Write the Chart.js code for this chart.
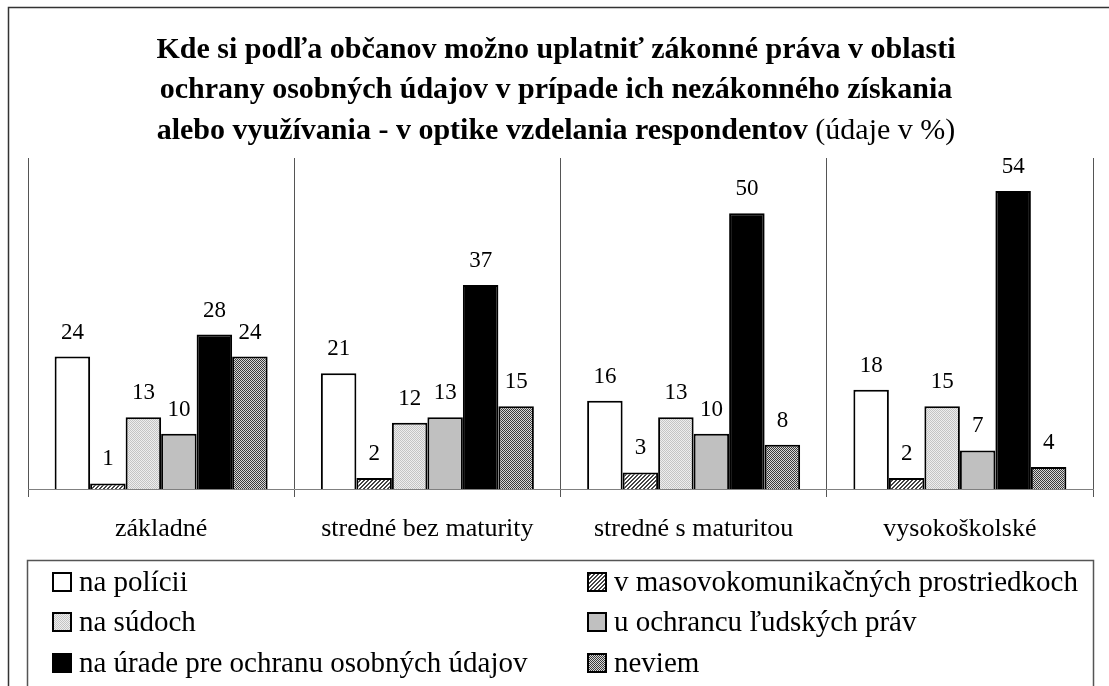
<!DOCTYPE html>
<html>
<head>
<meta charset="utf-8">
<script src="https://cdn.jsdelivr.net/npm/chart.js@4/dist/chart.umd.min.js"></script>
<style>
  body { margin: 0; background: #fff; }
  canvas { display: block; }
</style>
</head>
<body>
<canvas id="educChart" width="1109" height="686"></canvas>
<script>
// kategórie a hodnoty (údaje v %)
const categories = ["základné", "stredné bez maturity", "stredné s maturitou", "vysokoškolské"];
const seriesNames = [
    "na polícii",
    "v masovokomunikačných prostriedkoch",
    "na súdoch",
    "u ochrancu ľudských práv",
    "na úrade pre ochranu osobných údajov",
    "neviem"
];
const naPolicii = [24, 21, 16, 18];
const vMedia = [1, 2, 3, 2];
const naSudoch = [13, 12, 13, 15];
const uOchrancu = [10, 13, 10, 7];
const naUrade = [28, 37, 50, 54];
const neviem = [24, 15, 8, 4];

const titleLines = [
    "Kde si podľa občanov možno uplatniť zákonné práva v oblasti",
    "ochrany osobných údajov v prípade ich nezákonného získania",
    "alebo využívania - v optike vzdelania respondentov"
];
const titleSuffix = " (údaje v %)";

const SERIF = "'Liberation Serif', 'Times New Roman', serif";

// vzory výplne
function makePattern(size, draw) {
    const c = document.createElement("canvas");
    c.width = size;
    c.height = size;
    const g = c.getContext("2d");
    draw(g);
    return g.createPattern(c, "repeat");
}

const hatch = makePattern(4, (g) => {
    g.fillStyle = "#ffffff";
    g.fillRect(0, 0, 4, 4);
    g.fillStyle = "#444444";
    for (let i = 0; i < 4; i++) {
        g.fillRect(i, 3 - i, 1, 1);
        g.fillRect((i + 1) % 4, 3 - i, 1, 1);
    }
});
const lightDots = makePattern(2, (g) => {
    g.fillStyle = "#eeeeee";
    g.fillRect(0, 0, 2, 2);
    g.fillStyle = "#c4c4c4";
    g.fillRect(0, 0, 1, 1);
    g.fillRect(1, 1, 1, 1);
});
const darkDots = makePattern(2, (g) => {
    g.fillStyle = "#d8d8d8";
    g.fillRect(0, 0, 2, 2);
    g.fillStyle = "#3a3a3a";
    g.fillRect(0, 0, 1, 1);
    g.fillRect(1, 1, 1, 1);
});

const fills = ["#ffffff", hatch, lightDots, "#c0c0c0", "#000000", darkDots];
const values = [naPolicii, vMedia, naSudoch, uOchrancu, naUrade, neviem];

// rámček, nadpis
const framePlugin = {
    id: "frame",
    beforeDraw(chart) {
        const ctx = chart.ctx;
        ctx.save();
        ctx.fillStyle = "#fff";
        ctx.fillRect(0, 0, chart.width, chart.height);
        ctx.strokeStyle = "#333";
        ctx.lineWidth = 1.5;
        ctx.beginPath();
        ctx.moveTo(8.5, chart.height + 2);
        ctx.lineTo(8.5, 7.5);
        ctx.lineTo(chart.width + 2, 7.5);
        ctx.stroke();
        ctx.restore();
    },
    afterDraw(chart) {
        const ctx = chart.ctx;
        ctx.save();
        ctx.fillStyle = "#000";
        ctx.textBaseline = "middle";
        ctx.textAlign = "left";
        const cx = 556;
        const ys = [50, 90, 131];
        const bold = "bold 30px " + SERIF;
        const normal = "30px " + SERIF;
        titleLines.forEach((line, i) => {
            ctx.font = bold;
            const w1 = ctx.measureText(line).width;
            let w2 = 0;
            if (i === titleLines.length - 1) {
                ctx.font = normal;
                w2 = ctx.measureText(titleSuffix).width;
            }
            const x0 = cx - (w1 + w2) / 2;
            ctx.font = bold;
            ctx.fillText(line, x0, ys[i]);
            if (w2) {
                ctx.font = normal;
                ctx.fillText(titleSuffix, x0 + w1, ys[i]);
            }
        });
        ctx.restore();
    }
};

// hodnoty nad stĺpcami
const valueLabels = {
    id: "valueLabels",
    afterDatasetsDraw(chart) {
        const ctx = chart.ctx;
        ctx.save();
        ctx.font = "23px " + SERIF;
        ctx.fillStyle = "#000";
        ctx.textAlign = "center";
        ctx.textBaseline = "alphabetic";
        chart.data.datasets.forEach((ds, di) => {
            chart.getDatasetMeta(di).data.forEach((bar, i) => {
                ctx.fillText(String(ds.data[i]), bar.x, bar.y - 18);
            });
        });
        ctx.restore();
    }
};

// legenda v rámčeku, dva stĺpce
const boxLegend = {
    id: "boxLegend",
    afterDraw(chart) {
        const ctx = chart.ctx;
        ctx.save();
        ctx.strokeStyle = "#555";
        ctx.lineWidth = 1.5;
        ctx.beginPath();
        ctx.moveTo(27.5, chart.height + 2);
        ctx.lineTo(27.5, 560.5);
        ctx.lineTo(1093.5, 560.5);
        ctx.lineTo(1093.5, chart.height + 2);
        ctx.stroke();

        ctx.font = "29px " + SERIF;
        ctx.textBaseline = "middle";
        ctx.textAlign = "left";
        const colX = [53, 588];
        const rowY = [582, 622, 663];
        const box = 18;
        chart.data.datasets.forEach((ds, i) => {
            const x = colX[i % 2];
            const y = rowY[Math.floor(i / 2)];
            ctx.fillStyle = ds.backgroundColor;
            ctx.fillRect(x, y - box / 2, box, box);
            ctx.strokeStyle = "#000";
            ctx.lineWidth = 2;
            ctx.strokeRect(x, y - box / 2, box, box);
            ctx.fillStyle = "#000";
            ctx.fillText(ds.label, x + 26, y + 1);
        });
        ctx.restore();
    }
};

const ctx = document.getElementById("educChart").getContext("2d");

new Chart(ctx, {
    type: "bar",
    data: {
        labels: categories,
        datasets: seriesNames.map((name, i) => ({
            label: name,
            data: values[i],
            backgroundColor: fills[i],
            borderColor: "#000",
            borderWidth: 2,
            categoryPercentage: 0.8,
            barPercentage: 1.0,
        })),
    },
    options: {
        responsive: false,
        animation: false,
        layout: {
            padding: { top: 158, left: 28, right: 16, bottom: 137 },
        },
        plugins: {
            legend: { display: false },
            title: { display: false },
            tooltip: { enabled: false },
        },
        scales: {
            x: {
                grid: {
                    offset: true,
                    color: "#555",
                    lineWidth: 1,
                    tickLength: 8,
                },
                border: { color: "#808080", width: 1 },
                ticks: {
                    color: "#000",
                    font: { family: SERIF, size: 26 },
                    padding: 17,
                },
                afterFit(scale) {
                    scale.height = 60;
                },
            },
            y: {
                display: false,
                min: 0,
                max: 60,
            },
        },
    },
    plugins: [framePlugin, valueLabels, boxLegend],
});
</script>
</body>
</html>
